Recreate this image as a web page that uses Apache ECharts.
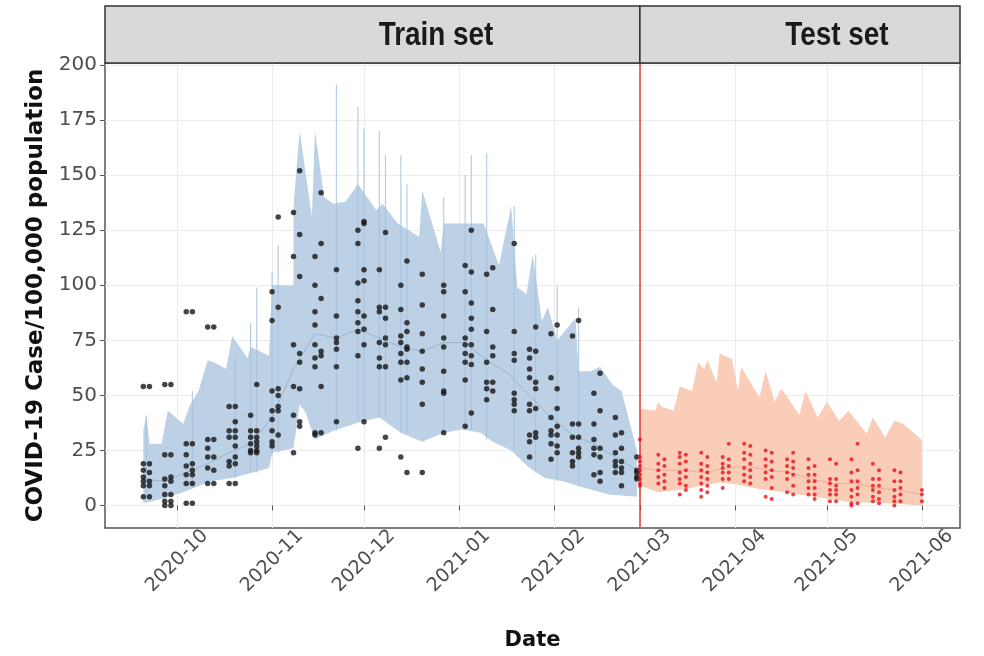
<!DOCTYPE html>
<html>
<head>
<meta charset="utf-8">
<script src="https://cdn.jsdelivr.net/npm/echarts@6/dist/echarts.min.js"></script>
<style>
  html, body { margin: 0; padding: 0; background: #ffffff; }
  #chart { width: 984px; height: 656px; }
</style>
</head>
<body>
<div id="chart"></div>
<script>
// ---- Observed case rates, train period (two reporting days per week) ----
const trainDates = [
  '2020-09-20','2020-09-22','2020-09-27','2020-09-29','2020-10-04','2020-10-06',
  '2020-10-11','2020-10-13','2020-10-18','2020-10-20','2020-10-25','2020-10-27',
  '2020-11-01','2020-11-03','2020-11-08','2020-11-10','2020-11-15','2020-11-17',
  '2020-11-22','2020-11-29','2020-12-01','2020-12-06','2020-12-08','2020-12-13',
  '2020-12-15','2020-12-20','2020-12-27','2021-01-03','2021-01-05','2021-01-10',
  '2021-01-12','2021-01-19','2021-01-24','2021-01-26','2021-01-31','2021-02-02',
  '2021-02-07','2021-02-09','2021-02-14','2021-02-16','2021-02-21','2021-02-23',
  '2021-02-28'
];
const trainValues = [
  [54, 19, 16, 13, 11, 9, 4], [54, 19, 15, 11, 9, 4],
  [55, 23, 12, 9, 5, 2, 0], [55, 23, 13, 11, 5, 2, 0],
  [88, 28, 23, 18, 14, 10, 1], [88, 28, 19, 16, 14, 10, 1],
  [81, 30, 26, 22, 17, 10], [81, 30, 22, 16, 10],
  [45, 34, 31, 20, 18, 10], [45, 38, 34, 31, 27, 22, 19, 10],
  [41, 34, 31, 28, 25, 24], [55, 34, 31, 29, 27, 25, 24],
  [97, 84, 52, 43, 39, 34, 29, 27], [131, 90, 53, 50, 45, 43, 32],
  [133, 113, 73, 54, 41, 24], [152, 123, 104, 69, 65, 53, 38, 36],
  [113, 100, 88, 82, 73, 67, 63, 33, 32], [142, 119, 94, 70, 68, 54, 33],
  [107, 86, 76, 74, 71, 63, 38],
  [125, 119, 101, 93, 88, 83, 79, 68, 26], [129, 128, 107, 102, 86, 80, 73, 38],
  [107, 90, 88, 74, 67, 63, 26], [124, 90, 85, 76, 73, 63, 31],
  [100, 89, 77, 74, 69, 65, 57, 22], [111, 83, 79, 72, 71, 65, 58, 15],
  [105, 91, 78, 70, 62, 56, 46, 15],
  [100, 97, 86, 76, 72, 61, 52, 51, 33],
  [109, 97, 76, 73, 69, 65, 57, 36], [125, 106, 92, 85, 80, 73, 68, 64, 42],
  [105, 79, 65, 56, 53, 48], [108, 89, 72, 68, 56, 52],
  [119, 79, 69, 66, 51, 48, 46, 43],
  [71, 67, 62, 58, 46, 43, 32, 29, 22], [81, 70, 56, 53, 44, 33, 31],
  [78, 58, 40, 34, 32, 28, 21], [82, 53, 44, 36, 32, 27, 24],
  [77, 37, 31, 24, 20, 18], [84, 37, 31, 26, 24, 22],
  [51, 37, 30, 26, 23, 14], [60, 43, 26, 22, 15, 11],
  [40, 32, 24, 20, 18, 15], [33, 26, 20, 17, 15, 9],
  [22, 16, 15, 13, 12]
];

// ---- Observed case rates, test period ----
const testDates = [
  '2021-03-01','2021-03-07','2021-03-09','2021-03-14','2021-03-16','2021-03-21',
  '2021-03-23','2021-03-28','2021-03-30','2021-04-04','2021-04-06','2021-04-11',
  '2021-04-13','2021-04-18','2021-04-20','2021-04-25','2021-04-27','2021-05-02',
  '2021-05-04','2021-05-09','2021-05-11','2021-05-16','2021-05-18','2021-05-23',
  '2021-05-25','2021-06-01'
];
const testValues = [
  [30, 22, 20, 18, 16, 14, 12, 10, 9],
  [23, 19, 16, 13, 10], [21, 18, 14, 11, 8],
  [24, 22, 19, 15, 12, 10, 5], [23, 20, 16, 13, 9, 7],
  [24, 19, 16, 13, 10, 7, 4], [22, 18, 15, 12, 9, 6],
  [22, 19, 17, 15, 12, 8], [28, 21, 18, 15, 12],
  [28, 24, 21, 17, 14, 11], [27, 23, 19, 16, 13, 10],
  [25, 21, 18, 15, 12, 4], [24, 20, 16, 13, 8, 3],
  [21, 18, 15, 12, 6], [24, 20, 17, 14, 9, 5],
  [21, 17, 14, 11, 8, 5], [18, 14, 11, 8, 5, 3],
  [21, 12, 10, 7, 5, 2], [19, 12, 9, 7, 5, 2],
  [21, 15, 11, 7, 4, 1, 0], [28, 16, 11, 8, 5, 1],
  [19, 12, 9, 7, 4, 2], [16, 12, 9, 6, 3, 1],
  [16, 11, 7, 4, 2, 0], [15, 11, 8, 5, 2],
  [7, 5, 2]
];

// ---- Prediction interval, train period ----
const trainUpperDates = [
  '2020-09-20','2020-09-21','2020-09-22','2020-09-26','2020-09-28','2020-10-03',
  '2020-10-05','2020-10-08','2020-10-11','2020-10-13','2020-10-17','2020-10-19',
  '2020-10-24','2020-10-25','2020-10-31','2020-11-01','2020-11-08','2020-11-08',
  '2020-11-10','2020-11-14','2020-11-15','2020-11-18','2020-11-21','2020-11-25',
  '2020-11-29','2020-12-05','2020-12-07','2020-12-12','2020-12-19','2020-12-20',
  '2020-12-26','2020-12-27','2021-01-06','2021-01-09','2021-01-13','2021-01-14',
  '2021-01-18','2021-01-20','2021-01-23','2021-01-25','2021-01-28','2021-01-30',
  '2021-02-02','2021-02-08','2021-02-09','2021-02-13','2021-02-16','2021-02-20',
  '2021-02-23','2021-02-28'
];
const trainUpperValues = [
  34, 41, 28, 28, 43, 37,
  45, 52, 66, 65, 62, 77,
  67, 72, 68, 100, 100, 136,
  170, 131, 170, 140, 137, 138,
  146, 134, 137, 128, 122, 143,
  115, 128, 128, 128, 113, 109,
  136, 99, 96, 114, 84, 90,
  75, 85, 61, 61, 63, 55,
  52, 25
];
const trainLowerDates = [
  '2020-09-20','2020-09-28','2020-10-04','2020-10-12','2020-10-19','2020-10-27',
  '2020-10-31','2020-11-01','2020-11-08','2020-11-10','2020-11-12','2020-11-15',
  '2020-11-21','2020-11-30','2020-12-06','2020-12-13','2020-12-20','2020-12-27',
  '2021-01-02','2021-01-08','2021-01-12','2021-01-18','2021-01-24','2021-01-29',
  '2021-02-04','2021-02-11','2021-02-19','2021-02-28'
];
const trainLowerValues = [
  1, 3.7, 6.6, 11, 12.5, 15.4,
  17, 24, 26, 46, 42, 30,
  34, 38, 40, 33, 29, 33,
  34.5, 33, 29, 25, 17, 12.5,
  11, 8, 5, 4
];

// ---- Prediction interval, test period ----
const testUpperDates = [
  '2021-03-01','2021-03-06','2021-03-07','2021-03-08','2021-03-12','2021-03-14',
  '2021-03-18','2021-03-20','2021-03-22','2021-03-23','2021-03-26','2021-03-27',
  '2021-03-31','2021-04-02','2021-04-03','2021-04-09','2021-04-11','2021-04-14',
  '2021-04-16','2021-04-18','2021-04-22','2021-04-24','2021-04-28','2021-05-01',
  '2021-05-05','2021-05-08','2021-05-14','2021-05-16','2021-05-20','2021-05-23',
  '2021-05-26','2021-05-31','2021-06-01'
];
const testUpperValues = [
  44, 43, 47, 45, 43, 54,
  52, 65, 62, 66, 56, 69,
  66.5, 52, 63, 49, 61, 47,
  53, 49.5, 41, 52, 40, 47,
  38.5, 43, 32.6, 40, 31, 38.5,
  37, 31, 29.6
];
const testLowerDates = [
  '2021-03-01','2021-03-07','2021-03-16','2021-03-21','2021-03-27','2021-04-01',
  '2021-04-09','2021-04-17','2021-04-28','2021-05-08','2021-05-20','2021-06-01'
];
const testLowerValues = [9, 6, 7.5, 9, 10.5, 9.7, 7.5, 6, 3.8, 1.6, 1, 0];

// ---- Per-date interval whiskers that rise above the ribbon ----
const whiskerDates = [
  '2020-09-21','2020-10-06','2020-10-20','2020-10-25','2020-10-27','2020-11-01',
  '2020-11-03','2020-11-22','2020-11-29','2020-12-01','2020-12-06','2020-12-08',
  '2020-12-13','2020-12-15','2020-12-27','2021-01-03','2021-01-05','2021-01-10',
  '2021-01-19','2021-01-26','2021-02-02','2021-02-09'
];
const whiskerLow = [
  5, 8, 12, 15, 15, 22,
  24, 34, 38, 38, 40, 40,
  33, 33, 33, 34, 34, 30,
  25, 15, 11, 9
];
const whiskerHigh = [
  41, 52, 68, 83, 99, 106,
  118, 191, 181, 171, 170, 159,
  159, 146, 140, 150, 159, 160,
  136, 114, 100, 90
];

// ---- Fitted mean line ----
const fitTrainDates = [
  '2020-09-20','2020-09-27','2020-10-04','2020-10-11','2020-10-18','2020-10-25',
  '2020-11-01','2020-11-08','2020-11-15','2020-11-22','2020-11-29','2020-12-06',
  '2020-12-13','2020-12-20','2020-12-27','2021-01-03','2021-01-10','2021-01-17',
  '2021-01-24','2021-01-31','2021-02-07','2021-02-14','2021-02-21','2021-02-28'
];
const fitTrainValues = [12, 11, 15, 19, 24, 28, 40, 62, 78, 76, 80, 76, 72, 70, 74, 74, 66, 60, 50, 40, 32, 28, 22, 16];
const fitTestDates = [
  '2021-03-01','2021-03-08','2021-03-15','2021-03-22','2021-03-29','2021-04-05',
  '2021-04-12','2021-04-19','2021-04-26','2021-05-03','2021-05-10','2021-05-17',
  '2021-05-24','2021-06-01'
];
const fitTestValues = [17, 16, 16, 15, 17, 18, 16, 15, 12, 10, 10, 8, 7, 5];

// ---- Axes ----
const monthTicks = [
  '2020-10-01','2020-11-01','2020-12-01','2021-01-01','2021-02-01',
  '2021-03-01','2021-04-01','2021-05-01','2021-06-01'
];
const yTicks = [0, 25, 50, 75, 100, 125, 150, 175, 200];
const splitDate = '2021-03-01';

function ts(s) {
  const p = s.split('-').map(Number);
  return new Date(p[0], p[1] - 1, p[2]).getTime();
}
function fmtMonth(v) {
  const d = new Date(v);
  return d.getFullYear() + '-' + String(d.getMonth() + 1).padStart(2, '0');
}

function ribbon(upperDates, upperValues, lowerDates, lowerValues, fill) {
  return {
    type: 'custom',
    z: 1,
    silent: true,
    clip: true,
    data: [[ts(upperDates[0]), upperValues[0]]],
    encode: { x: 0, y: 1 },
    renderItem: function (params, api) {
      const pts = [];
      upperDates.forEach((d, i) => pts.push(api.coord([ts(d), upperValues[i]])));
      for (let i = lowerDates.length - 1; i >= 0; i--) {
        pts.push(api.coord([ts(lowerDates[i]), lowerValues[i]]));
      }
      return { type: 'polygon', shape: { points: pts }, style: { fill: fill } };
    }
  };
}

const trainPoints = trainDates.flatMap((d, i) => trainValues[i].map(v => [ts(d), v]));
const testPoints = testDates.flatMap((d, i) => testValues[i].map(v => [ts(d), v]));

const tickFont = { fontFamily: 'DejaVu Sans', fontSize: 20, color: '#4d4d4d' };

const chart = echarts.init(document.getElementById('chart'), null, { renderer: 'canvas' });

const option = {
  animation: false,
  backgroundColor: '#ffffff',
  grid: {
    left: 105, right: 24, top: 63, bottom: 116,
    show: true, borderColor: '#555555', borderWidth: 1.5, backgroundColor: 'transparent'
  },
  xAxis: {
    type: 'value',
    min: ts('2020-09-07') + 12 * 3600e3,
    max: ts('2021-06-13') + 10 * 3600e3,
    name: 'Date',
    nameLocation: 'middle',
    nameGap: 102,
    nameTextStyle: { fontFamily: 'DejaVu Sans', fontSize: 21, fontWeight: 'bold', color: '#111' },
    axisLine: { show: false },
    axisTick: { show: true, length: 5, lineStyle: { color: '#555' }, customValues: monthTicks.map(ts) },
    axisLabel: Object.assign({
      rotate: 45, align: 'center', verticalAlign: 'middle', margin: 33,
      customValues: monthTicks.map(ts), formatter: fmtMonth, hideOverlap: false
    }, tickFont, { fontSize: 19 }),
    splitLine: { show: true, lineStyle: { color: '#ebebeb', width: 1 } }
  },
  yAxis: {
    type: 'value',
    min: -10.2,
    max: 200.9,
    name: 'COVID-19 Case/100,000 population',
    nameLocation: 'middle',
    nameRotate: 90,
    nameGap: 57,
    nameTextStyle: { fontFamily: 'DejaVu Sans', fontSize: 23, fontWeight: 'bold', color: '#111' },
    axisLine: { show: false },
    axisTick: { show: true, length: 5, lineStyle: { color: '#555' }, customValues: yTicks },
    axisLabel: Object.assign({ margin: 8, customValues: yTicks }, tickFont),
    splitLine: { show: true, lineStyle: { color: '#ebebeb', width: 1 } }
  },
  series: [
    ribbon(trainUpperDates, trainUpperValues, trainLowerDates, trainLowerValues, '#bcd1e6'),
    ribbon(testUpperDates, testUpperValues, testLowerDates, testLowerValues, '#facdb9'),
    {
      type: 'custom',
      z: 2,
      silent: true,
      data: whiskerDates.map((d, i) => [ts(d), whiskerLow[i], whiskerHigh[i]]),
      encode: { x: 0, y: [1, 2] },
      renderItem: function (params, api) {
        const a = api.coord([api.value(0), api.value(1)]);
        const b = api.coord([api.value(0), api.value(2)]);
        return {
          type: 'line',
          shape: { x1: a[0], y1: a[1], x2: b[0], y2: b[1] },
          style: { stroke: 'rgba(165,192,220,0.8)', lineWidth: 1.2 }
        };
      }
    },
    {
      type: 'line', z: 3, silent: true, showSymbol: false,
      data: fitTrainDates.map((d, i) => [ts(d), fitTrainValues[i]]),
      lineStyle: { color: 'rgba(120,150,185,0.5)', width: 1 }
    },
    {
      type: 'line', z: 3, silent: true, showSymbol: false,
      data: fitTestDates.map((d, i) => [ts(d), fitTestValues[i]]),
      lineStyle: { color: 'rgba(235,140,120,0.55)', width: 1 },
      markLine: {
        silent: true, symbol: 'none', label: { show: false },
        lineStyle: { color: '#e53a35', width: 1.5, type: 'solid' },
        data: [{ xAxis: ts(splitDate) }]
      }
    },
    {
      type: 'scatter', z: 5, silent: true,
      symbol: 'circle', symbolSize: 5.5,
      itemStyle: { color: '#151515' },
      data: trainPoints
    },
    {
      type: 'scatter', z: 5, silent: true,
      symbol: 'circle', symbolSize: 4,
      itemStyle: { color: '#e8121a' },
      data: testPoints
    }
  ]
};

chart.setOption(option);

// Facet strips above the panel, split at the train/test boundary
const splitX = chart.convertToPixel({ xAxisIndex: 0 }, ts(splitDate));
const stripText = {
  fontFamily: '"Liberation Sans", Arial, sans-serif', fontWeight: 'bold', fontSize: 34,
  fill: '#1a1a1a', align: 'center', verticalAlign: 'middle'
};
chart.setOption({
  graphic: [
    { type: 'rect', z: 10, shape: { x: 105, y: 6, width: splitX - 105, height: 57 },
      style: { fill: '#d9d9d9', stroke: '#333333', lineWidth: 1.5 } },
    { type: 'rect', z: 10, shape: { x: splitX, y: 6, width: 960 - splitX, height: 57 },
      style: { fill: '#d9d9d9', stroke: '#333333', lineWidth: 1.5 } },
    { type: 'text', z: 11, x: 436, y: 36, scaleX: 0.82,
      style: Object.assign({ text: 'Train set' }, stripText) },
    { type: 'text', z: 11, x: 837, y: 36, scaleX: 0.82,
      style: Object.assign({ text: 'Test set' }, stripText) }
  ]
});
</script>
</body>
</html>
